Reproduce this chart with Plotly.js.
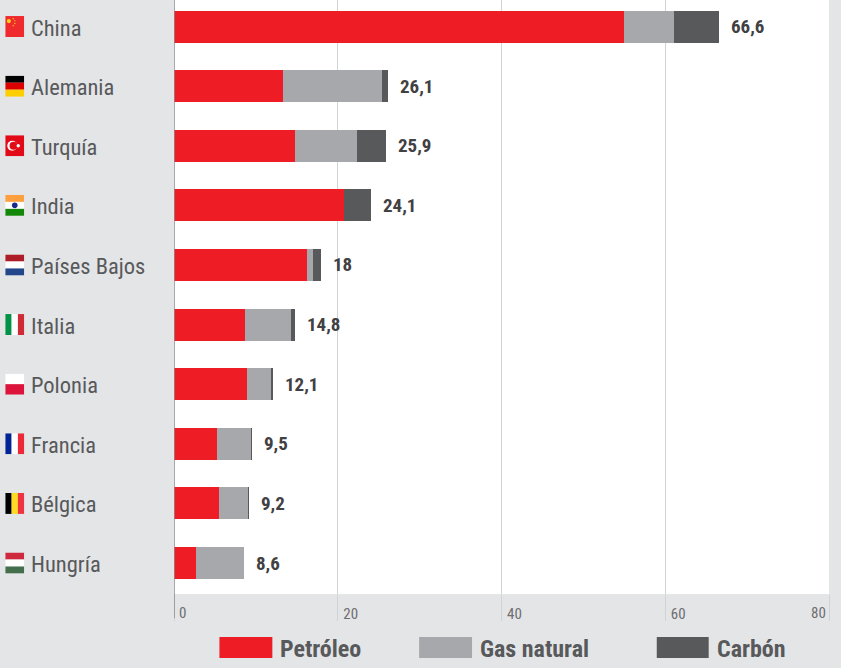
<!DOCTYPE html>
<html>
<head>
<meta charset="utf-8">
<script src="https://cdn.plot.ly/plotly-3.0.1.min.js"></script>
<style>html,body{margin:0;padding:0;background:#e4e5e7;overflow:hidden;font-stretch:condensed}
text{font-stretch:condensed}</style>
</head>
<body>
<div id="chart" style="width:841px;height:668px"></div>
<script>
// Importers' energy purchases by fuel, stacked per country
const paises = ["China","Alemania","Turquía","India","Países Bajos","Italia","Polonia","Francia","Bélgica","Hungría"];
const petroleo = [55.0,13.3,14.8,20.8,16.2,8.7,8.9,5.2,5.5,2.7];
const gasNatural = [6.1,12.1,7.5,0,0.8,5.6,2.9,4.2,3.55,5.9];
const carbon = [5.5,0.7,3.6,3.3,1.0,0.5,0.3,0.1,0.15,0];
const totales = ["66,6","26,1","25,9","24,1","18","14,8","12,1","9,5","9,2","8,6"];
const ticksX = [0,20,40,60,80];
const ticksTexto = ["","20","40","60",""];
const nombresLeyenda = ["Petróleo","Gas natural","Carbón"];
const coloresLeyenda = ["#ee1c25","#a7a8ab","#58595b"];

const fuente = "'Roboto',sans-serif";
const W = 841, H = 668, mL = 173.5, mR = 11.5, mT = 0, mB = 74;
const plotW = W - mL - mR, plotH = H - mT - mB;
const paperX = px => (px - mL) / plotW;
const paperY = px => 1 - (px - mT) / plotH;

// Flag artwork, 19x21 viewBox
const bandasH = c => c.map((col,i)=>`<rect x="0" y="${i*7}" width="19" height="7.1" fill="${col}"/>`).join("");
const bandasV = c => c.map((col,i)=>`<rect x="${i*6.33}" y="0" width="6.4" height="21" fill="${col}"/>`).join("");
const banderas = [
  `<rect width="19" height="21" fill="#ee2a2e"/><circle cx="3.6" cy="5" r="2.1" fill="#fbd116"/><circle cx="8" cy="2.6" r=".7" fill="#fbd116"/><circle cx="9.6" cy="4.8" r=".7" fill="#fbd116"/><circle cx="9.6" cy="7.4" r=".7" fill="#fbd116"/><circle cx="8" cy="9.6" r=".7" fill="#fbd116"/>`,
  bandasH(["#000000","#dd0000","#ffce00"]),
  `<rect width="19" height="21" fill="#e30a17"/><circle cx="7" cy="10.5" r="5" fill="#fff"/><circle cx="8.3" cy="10.5" r="4" fill="#e30a17"/><circle cx="13" cy="10.5" r="1.7" fill="#fff"/>`,
  bandasH(["#ff9f3e","#ffffff","#138808"])+`<circle cx="9.5" cy="10.5" r="2.8" fill="#1a2a8a"/>`,
  bandasH(["#ae1c28","#ffffff","#21468b"]),
  bandasV(["#009246","#ffffff","#ce2b37"]),
  `<rect width="19" height="10.5" fill="#ffffff"/><rect y="10.5" width="19" height="10.5" fill="#dc143c"/>`,
  bandasV(["#002395","#ffffff","#ed2939"]),
  bandasV(["#000000","#fdda24","#ef3340"]),
  bandasH(["#cd2a3e","#ffffff","#436f4d"])
];
const imagenes = banderas.map((svg,i)=>({
  source: "data:image/svg+xml;charset=utf-8," + encodeURIComponent(
    `<svg xmlns="http://www.w3.org/2000/svg" width="19" height="21" viewBox="0 0 19 21" preserveAspectRatio="none">${svg}</svg>`),
  xref:"paper", yref:"y", x:paperX(4.5), y:i, sizex:19/plotW, sizey:21/59.6,
  xanchor:"left", yanchor:"middle", sizing:"stretch", layer:"above"
}));

const filas = paises.map((_,i)=>i);
const serie = (nombre,valores,color)=>({
  type:"bar", orientation:"h", name:nombre, x:valores, y:filas,
  marker:{color:color,line:{width:0}}, width:0.537, hoverinfo:"x+name"
});
const trazas = [
  serie(nombresLeyenda[0],petroleo,coloresLeyenda[0]),
  serie(nombresLeyenda[1],gasNatural,coloresLeyenda[1]),
  serie(nombresLeyenda[2],carbon,coloresLeyenda[2])
];

const anotaciones = [];
// Country names at the left
paises.forEach((p,i)=>anotaciones.push({
  text:p, xref:"paper", yref:"y", x:paperX(28), y:i, yshift:-1, xanchor:"left", yanchor:"middle",
  showarrow:false, font:{family:fuente,size:22.5,color:"#58595b",stretch:"condensed"}
}));
// Totals at the end of each bar
totales.forEach((t,i)=>anotaciones.push({
  text:"<b>"+t+"</b>", xref:"x", yref:"y",
  x:petroleo[i]+gasNatural[i]+carbon[i], xshift:10, y:i, xanchor:"left", yanchor:"middle",
  showarrow:false, font:{family:fuente,size:19,color:"#414042",stretch:"condensed"}
}));
// First and last axis labels keep their own alignment beside the tick
[[0,"0","left",3],[80,"80","right",-1]].forEach(([v,t,a,s])=>anotaciones.push({
  text:t, xref:"x", yref:"paper", x:v, xshift:s, y:paperY(613), xanchor:a, yanchor:"middle",
  showarrow:false, font:{family:fuente,size:15,color:"#6d6e71",stretch:"condensed"}
}));

// Key below the axis
const leyendaX = [[219,272,278],[419,472,478],[657,709,715]];
const formas = [{
  type:"line", xref:"x", yref:"paper", x0:0, x1:0, y0:paperY(0), y1:paperY(618),
  line:{color:"#8a8c8f",width:1.5}
}];
nombresLeyenda.forEach((n,i)=>{
  formas.push({type:"rect",xref:"paper",yref:"paper",x0:paperX(leyendaX[i][0]),x1:paperX(leyendaX[i][1]),
    y0:paperY(637),y1:paperY(658),fillcolor:coloresLeyenda[i],line:{width:0}});
  anotaciones.push({text:"<b>"+n+"</b>",xref:"paper",yref:"paper",x:paperX(leyendaX[i][2]),y:paperY(649),
    xanchor:"left",yanchor:"middle",showarrow:false,font:{family:fuente,size:24,color:"#58595b",stretch:"condensed"}});
});

const layout = {
  width:W, height:H, margin:{l:mL,r:mR,t:mT,b:mB,pad:0},
  paper_bgcolor:"#e4e5e7", plot_bgcolor:"#ffffff",
  barmode:"stack", showlegend:false, bargap:0,
  xaxis:{range:[0,80], tickmode:"array", tickvals:ticksX, ticktext:ticksTexto,
    ticks:"outside", ticklen:26, tickwidth:1, tickcolor:"#d1d2d4",
    showgrid:true, gridcolor:"#d1d2d4", gridwidth:1, zeroline:false, showline:false,
    ticklabelposition:"outside", ticklabelshift:13, ticklabelstandoff:-20,
    tickfont:{family:fuente,size:15,color:"#6d6e71",stretch:"condensed"}},
  yaxis:{range:[9.52,-0.445], tickmode:"array", tickvals:[], showgrid:false, zeroline:false, showline:false},
  annotations:anotaciones, shapes:formas, images:imagenes
};
Plotly.newPlot("chart",trazas,layout,{displayModeBar:false,staticPlot:true});
</script>
</body>
</html>
